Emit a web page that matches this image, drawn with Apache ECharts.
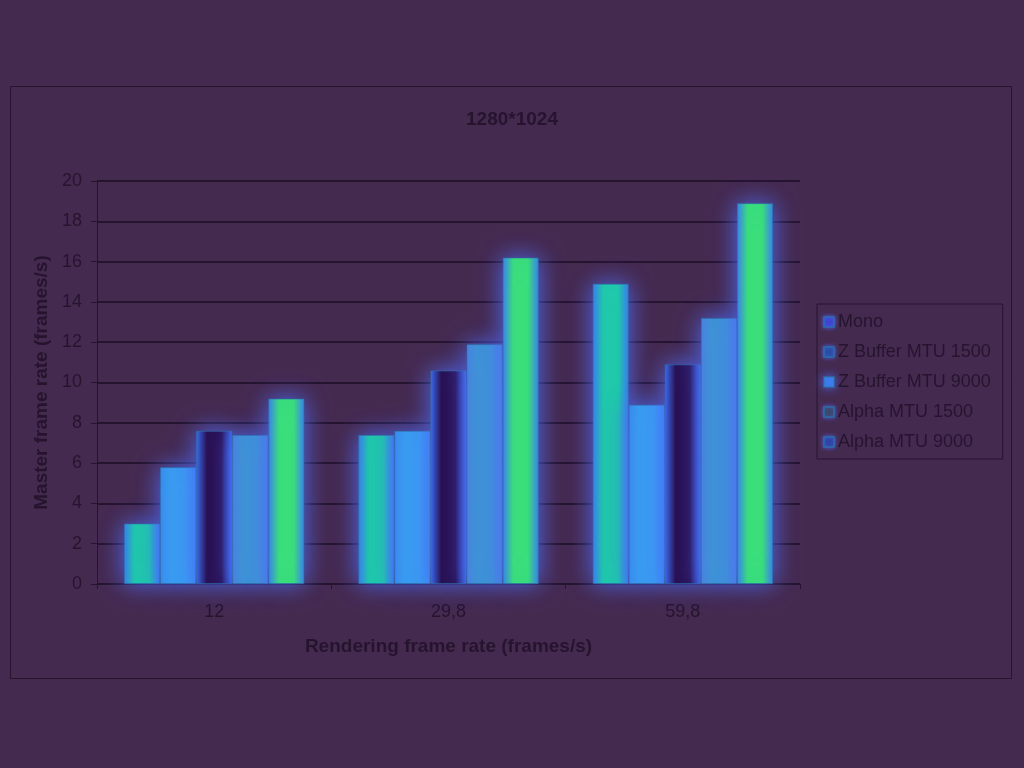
<!DOCTYPE html>
<html>
<head>
<meta charset="utf-8">
<script src="https://cdn.jsdelivr.net/npm/echarts@6/dist/echarts.min.js"></script>
<style>
  html, body { margin: 0; padding: 0; background: #452a50; }
  #chart { width: 1024px; height: 768px; }
</style>
</head>
<body>
<div id="chart"></div>
<script>
// ── Datos ────────────────────────────────────────────────────────────────
const categories = ['12', '29,8', '59,8'];
const seriesNames = ['Mono', 'Z Buffer MTU 1500', 'Z Buffer MTU 9000', 'Alpha MTU 1500', 'Alpha MTU 9000'];
const mono       = [3.0, 7.4, 14.9];
const zbuf1500   = [5.8, 7.6, 8.9];
const zbuf9000   = [7.6, 10.6, 10.9];
const alpha1500  = [7.4, 11.9, 13.2];
const alpha9000  = [9.2, 16.2, 18.9];
const yTicks     = [0, 2, 4, 6, 8, 10, 12, 14, 16, 18, 20];

// ── Estilo ───────────────────────────────────────────────────────────────
const INK = '#26142f';
const FONT = 'Liberation Sans, Arial, sans-serif';

function _hGrad(edge, center, a, b) {
  return {
    type: 'linear', x: 0, y: 0, x2: 1, y2: 0,
    colorStops: [
      { offset: 0, color: edge },
      { offset: a, color: center },
      { offset: b, color: center },
      { offset: 1, color: edge },
    ],
  };
}

const BAR_STYLES = [
  { fill: _hGrad('#3a7cf0', '#1fcba8', 0.3, 0.7), legend: '#4040d0' },
  { fill: _hGrad('#3a8af0', '#3a9ef0', 0.3, 0.7), legend: '#2a4aa0' },
  { fill: _hGrad('#3a6cf0', '#2a1050', 0.3, 0.7), legend: '#3a80f0' },
  { fill: _hGrad('#4a82e0', '#3f94d6', 0.3, 0.7), legend: '#3a4560' },
  { fill: _hGrad('#3a80f0', '#3ae07a', 0.3, 0.7), legend: '#3040a0' },
];

const values = [mono, zbuf1500, zbuf9000, alpha1500, alpha9000];

const chart = echarts.init(document.getElementById('chart'), null, { renderer: 'canvas' });

chart.setOption({
  backgroundColor: '#452a50',
  textStyle: { fontFamily: FONT, color: INK },
  animation: false,
  title: {
    text: '1280*1024',
    left: 507, top: 105,
    textAlign: 'center',
    textStyle: { fontSize: 19, fontWeight: 'bold', color: INK, fontFamily: FONT },
  },
  graphic: [{
    type: 'rect',
    shape: { x: 10.5, y: 86.5, width: 1001, height: 592 },
    style: { fill: 'none', stroke: INK, lineWidth: 1 },
    silent: true,
    z: -1,
  }],
  legend: {
    orient: 'vertical',
    left: 817, top: 304,
    padding: [9, 12, 8, 6],
    itemGap: 12,
    itemWidth: 10, itemHeight: 10,
    borderColor: INK, borderWidth: 1,
    icon: 'rect',
    textStyle: { fontSize: 18, color: INK, fontFamily: FONT, padding: [0, 0, 0, -1] },
    data: seriesNames.map((n, i) => ({
      name: n,
      itemStyle: { color: BAR_STYLES[i].legend, shadowBlur: i === 2 ? 10 : 4, shadowColor: '#4a6af0' },
    })),
  },
  grid: { left: 97, right: 224, top: 181, bottom: 184 },
  xAxis: {
    type: 'category',
    data: categories,
    name: 'Rendering frame rate (frames/s)',
    nameLocation: 'middle',
    nameGap: 53,
    nameTextStyle: { fontSize: 19, fontWeight: 'bold', color: INK, fontFamily: FONT },
    axisLine: { lineStyle: { color: INK, width: 1 } },
    axisTick: { show: true, length: 5, lineStyle: { color: INK } },
    axisLabel: { fontSize: 18, color: INK, margin: 19, fontFamily: FONT },
  },
  yAxis: {
    type: 'value',
    min: 0, max: 20, interval: 2,
    name: 'Master frame rate (frames/s)',
    nameLocation: 'middle',
    nameGap: 45,
    nameTextStyle: { fontSize: 19, fontWeight: 'bold', color: INK, fontFamily: FONT },
    axisLine: { show: true, lineStyle: { color: INK, width: 1 } },
    axisTick: { show: true, length: 6, lineStyle: { color: INK } },
    axisLabel: {
      fontSize: 18, color: INK, margin: 15, fontFamily: FONT,
      formatter: (v) => yTicks.includes(v) ? String(v) : '',
    },
    splitLine: { show: true, lineStyle: { color: INK, width: 2 } },
  },
  series: seriesNames.map((name, i) => ({
    name,
    type: 'bar',
    data: values[i],
    barGap: '0%',
    barCategoryGap: '23%',
    itemStyle: {
      color: BAR_STYLES[i].fill,
      borderColor: 'rgba(40,120,170,0.55)',
      borderWidth: 1,
      shadowBlur: 24,
      shadowColor: 'rgba(80,110,255,0.95)',
    },
  })),
});

window.addEventListener('resize', () => chart.resize());
</script>
</body>
</html>
